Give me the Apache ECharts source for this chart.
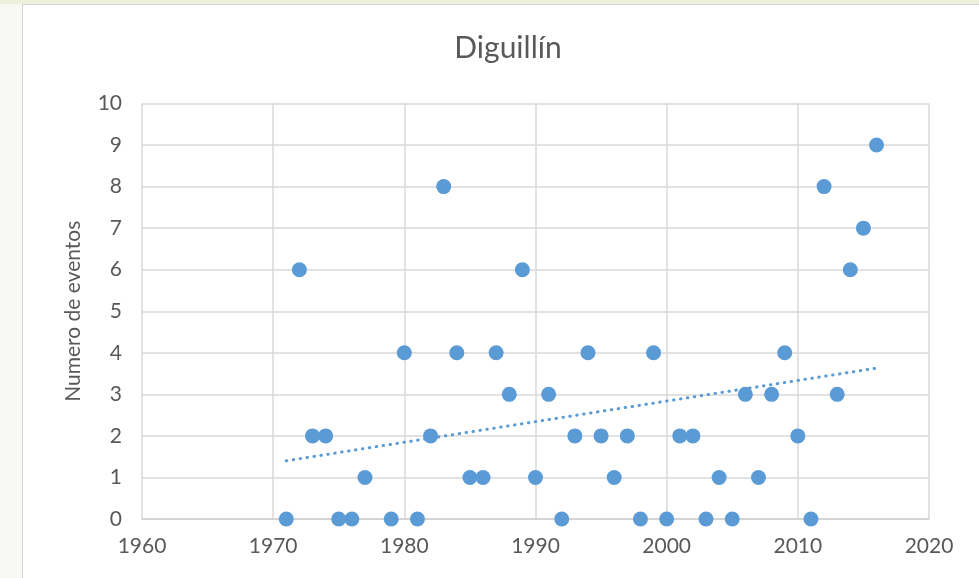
<!DOCTYPE html>
<html>
<head>
<meta charset="utf-8">
<script src="https://cdn.jsdelivr.net/npm/echarts@6/dist/echarts.min.js"></script>
<style>
  html, body { margin: 0; padding: 0; background: #f8f8f4; }
  #top { position: absolute; left: 0; top: 0; width: 979px; height: 4px; background: #eef0dc; }
  #frame { position: absolute; left: 22px; top: 4px; width: 980px; height: 600px;
           background: #fff; border: 1px solid #d4d4d4; box-sizing: border-box; }
  #chart { position: absolute; left: 0; top: 0; width: 979px; height: 578px; }
</style>
</head>
<body>
<div id="top"></div>
<div id="frame"></div>
<div id="chart"></div>
<script>
// años y número de eventos
const years = [1971, 1972, 1973, 1974, 1975, 1976, 1977, 1979, 1980, 1981, 1982, 1983, 1984, 1985, 1986,
  1987, 1988, 1989, 1990, 1991, 1992, 1993, 1994, 1995, 1996, 1997, 1998, 1999, 2000, 2001,
  2002, 2003, 2004, 2005, 2006, 2007, 2008, 2009, 2010, 2011, 2012, 2013, 2014, 2015, 2016];
const events = [0, 6, 2, 2, 0, 0, 1, 0, 4, 0, 2, 8, 4, 1, 1,
  4, 3, 6, 1, 3, 0, 2, 4, 2, 1, 2, 0, 4, 0, 2,
  2, 0, 1, 0, 3, 1, 3, 4, 2, 0, 8, 3, 6, 7, 9];

// tendencia lineal (mínimos cuadrados)
function linearTrend(xs, ys) {
  const n = xs.length;
  const mx = xs.reduce((a, b) => a + b, 0) / n;
  const my = ys.reduce((a, b) => a + b, 0) / n;
  let sxy = 0, sxx = 0;
  for (let i = 0; i < n; i++) {
    sxy += (xs[i] - mx) * (ys[i] - my);
    sxx += (xs[i] - mx) * (xs[i] - mx);
  }
  const b = sxy / sxx;
  return (x) => my + b * (x - mx);
}
const trend = linearTrend(years, events);
const x0 = years[0], x1 = years[years.length - 1];

const blue = "#5b9bd5";
const grey = "#595959";
const font = "Lato";

const chart = echarts.init(document.getElementById("chart"), null, { renderer: "canvas" });
chart.setOption({
  animation: false,
  title: {
    text: "Diguillín",
    left: 503, top: 28, textAlign: "center",
    textStyle: { fontFamily: font, fontSize: 30, fontWeight: "normal", color: grey },
  },
  grid: { left: 142, right: 50, top: 103.5, bottom: 59 },
  xAxis: {
    type: "value", min: 1960, max: 2020, interval: 10,
    axisLine: { lineStyle: { color: "#d0d0d0", width: 1.5 } },
    axisTick: { show: false },
    splitLine: { show: true, lineStyle: { color: "#d9d9d9", width: 1.5 } },
    axisLabel: { fontFamily: font, fontSize: 21, color: grey, margin: 17, formatter: (v) => String(v) },
  },
  yAxis: {
    type: "value", min: 0, max: 10, interval: 1,
    name: "Numero de eventos", nameLocation: "middle", nameRotate: 90, nameGap: 58,
    nameTextStyle: { fontFamily: font, fontSize: 21, color: grey },
    axisLine: { show: false },
    axisTick: { show: false },
    splitLine: { lineStyle: { color: "#d9d9d9", width: 1.5 } },
    axisLabel: { fontFamily: font, fontSize: 21, color: grey, margin: 20 },
  },
  series: [
    {
      type: "line",
      data: [[x0, trend(x0)], [x1, trend(x1)]],
      symbol: "none",
      lineStyle: { color: blue, width: 3, type: [0.5, 6.5], cap: "round" },
      z: 2,
    },
    {
      type: "scatter",
      data: years.map((y, i) => [y, events[i]]),
      symbolSize: 15,
      itemStyle: { color: blue, opacity: 1 },
      z: 3,
    },
  ],
});
</script>
</body>
</html>
